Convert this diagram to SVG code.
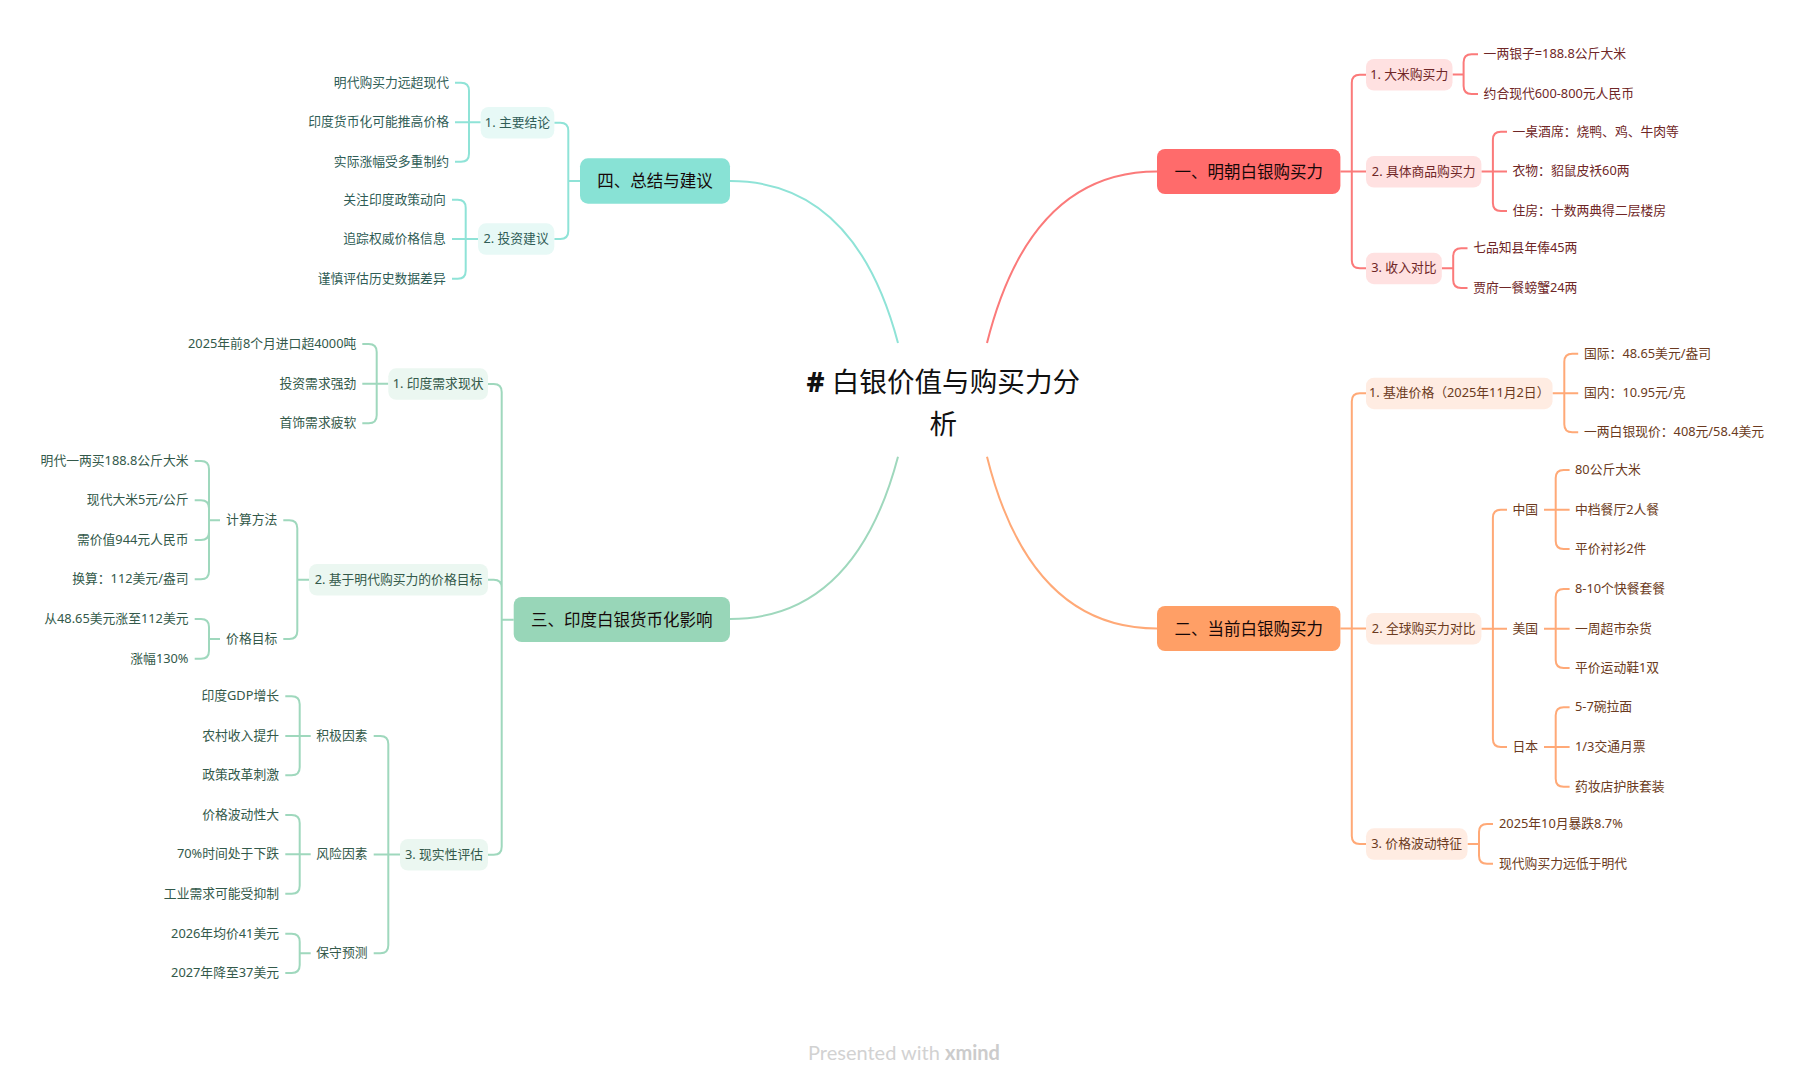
<svg xmlns="http://www.w3.org/2000/svg" width="1810" height="1080" viewBox="0 0 1810 1080">
<style>
text{font-family:"Noto Sans","Noto Sans CJK SC",sans-serif;font-size:12.8px}
.e{text-anchor:end}.m{text-anchor:middle}
.r text{fill:#6f2626;transform:translateY(-.7px)}.o text{fill:#6b3a20;transform:translateY(-.7px)}.t text{fill:#2f5d56;transform:translateY(-.7px)}.g text{fill:#33594a;transform:translateY(-.7px)}
.r text.main,.o text.main,.t text.main,.g text.main{font-size:16.5px;text-anchor:middle;fill:#160808;transform:none}
.r rect.s{fill:#ffe1e1}.o rect.s{fill:#ffece2}.t rect.s{fill:#e7f9f6}.g rect.s{fill:#ebf7f1}
path{fill:none;stroke-width:2;stroke-linecap:butt}
.cr{stroke:#fb7a7a}.co{stroke:#ffa977}.ct{stroke:#8fe3d7}.cg{stroke:#9fd8bd}
.big{font-size:27.6px;fill:#111}
</style>
<rect width="1810" height="1080" fill="#fff"/>
<g id="connectors">
<g class="cr">
<path d="M987 343Q1030 171.500 1157 171.500"/>
<path d="M1340.400 171.600H1366M1366 74.700H1359.800Q1351.800 74.700 1351.800 82.700V260.300Q1351.800 268.300 1359.800 268.300H1366"/>
<path d="M1452.500 74.500H1463.600M1478 54.300H1471.600Q1463.600 54.300 1463.600 62.300V86Q1463.600 94 1471.600 94H1478"/>
<path d="M1481.400 171.500H1507M1507 131.700H1500.900Q1492.900 131.700 1492.900 139.700V203Q1492.900 211 1500.900 211H1507"/>
<path d="M1441.800 268.300H1453.200M1467.500 248.300H1461.200Q1453.200 248.300 1453.200 256.300V280Q1453.200 288 1461.200 288H1467.500"/>
</g>
<g class="co">
<path d="M987 456.700Q1030 628.500 1157 628.500"/>
<path d="M1340.400 628.600H1366M1366 393.300H1359.800Q1351.800 393.300 1351.800 401.300V836Q1351.800 844 1359.800 844H1366"/>
<path d="M1552.500 393.300H1578.200M1578.200 353.700H1572.300Q1564.300 353.700 1564.300 361.700V424.300Q1564.300 432.300 1572.300 432.300H1578.200"/>
<path d="M1481.400 628.700H1507M1507 509.700H1500.900Q1492.900 509.700 1492.900 517.700V739Q1492.900 747 1500.900 747H1507"/>
<path d="M1544 509.700H1569.600M1569.600 470H1563.700Q1555.700 470 1555.700 478V541Q1555.700 549 1563.700 549H1569.600"/>
<path d="M1544 628.700H1569.600M1569.600 589H1563.700Q1555.700 589 1555.700 597V660Q1555.700 668 1563.700 668H1569.600"/>
<path d="M1544 747H1569.600M1569.600 707.300H1563.700Q1555.700 707.300 1555.700 715.300V778.700Q1555.700 786.700 1563.700 786.700H1569.600"/>
<path d="M1467.500 844H1479M1493 824H1487Q1479 824 1479 832V855.700Q1479 863.700 1487 863.700H1493"/>
</g>
<g class="ct">
<path d="M898 343Q855 181 730 181"/>
<path d="M580 181H568.300M554.300 122.700H560.300Q568.300 122.700 568.300 130.700V231Q568.300 239 560.300 239H554.300"/>
<path d="M455 122.300H480.700M455 82.700H461Q469 82.700 469 90.700V153.700Q469 161.700 461 161.700H455"/>
<path d="M452 239H478M452 199.700H457.700Q465.700 199.700 465.700 207.700V270.700Q465.700 278.700 457.700 278.700H452"/>
</g>
<g class="cg">
<path d="M898 456.700Q855 619 730 619"/>
<path d="M513.700 619.700H501.700M488 384H493.700Q501.700 384 501.700 392V846.700Q501.700 854.700 493.700 854.700H488M488 579.700H493.700Q501.700 579.700 501.700 587.700"/>
<path d="M362.300 383.700H388.300M362.300 344H368.700Q376.700 344 376.700 352V415.300Q376.700 423.300 368.700 423.300H362.300"/>
<path d="M283.300 520.300H289.300Q297.300 520.300 297.300 528.300V631Q297.300 639 289.300 639H283.300M297.300 579.700H309"/>
<path d="M194.700 461H201Q209 461 209 469V571.300Q209 579.300 201 579.300H194.700M194.700 500.300H201Q209 500.300 209 508.300M194.700 540H201Q209 540 209 532M209 520.300H220"/>
<path d="M194.700 619H201Q209 619 209 627V650.700Q209 658.700 201 658.700H194.700M209 639H220"/>
<path d="M373.700 736H380.300Q388.300 736 388.300 744V945.300Q388.300 953.300 380.300 953.300H373.700M373.700 854.500H400"/>
<path d="M285.300 736H310.700M285.300 696.300H291.700Q299.700 696.300 299.700 704.300V767.300Q299.700 775.300 291.700 775.300H285.300"/>
<path d="M285.300 854.300H310.700M285.300 815H291.700Q299.700 815 299.700 823V885.700Q299.700 893.700 291.700 893.700H285.300"/>
<path d="M285.300 933.700H291.700Q299.700 933.700 299.700 941.700V965Q299.700 973 291.700 973H285.300M299.700 953.300H310.700"/>
</g>
</g>
<g id="center"><text x="943.300" y="391.500" class="m big"><tspan font-weight="800">#</tspan> 白银价值与购买力分</text><text x="943.300" y="434" class="m big">析</text></g>

<g class="r">
<g id="n1"><rect x="1157" y="149" width="183.400" height="45" rx="8" fill="#ff6b6b"/><text class="main" x="1248.700" y="177.500">一、明朝白银购买力</text></g>
<g id="n1-1"><rect class="s" x="1366" y="59" width="86.500" height="31.500" rx="8"/><text class="m" x="1409.200" y="79.500">1. 大米购买力</text></g>
<g id="n1-1-1"><text x="1483.600" y="59">一两银子=188.8公斤大米</text></g>
<g id="n1-1-2"><text x="1483.600" y="98.700">约合现代600-800元人民币</text></g>
<g id="n1-2"><rect class="s" x="1366" y="156" width="115.400" height="31.500" rx="8"/><text class="m" x="1423.700" y="176.400">2. 具体商品购买力</text></g>
<g id="n1-2-1"><text x="1512.500" y="136.400">一桌酒席：烧鸭、鸡、牛肉等</text></g>
<g id="n1-2-2"><text x="1512.500" y="176">衣物：貂鼠皮袄60两</text></g>
<g id="n1-2-3"><text x="1512.500" y="215.700">住房：十数两典得二层楼房</text></g>
<g id="n1-3"><rect class="s" x="1366" y="252.700" width="75.800" height="31.500" rx="8"/><text class="m" x="1403.900" y="273">3. 收入对比</text></g>
<g id="n1-3-1"><text x="1473.200" y="253">七品知县年俸45两</text></g>
<g id="n1-3-2"><text x="1473.200" y="292.700">贾府一餐螃蟹24两</text></g>
</g>

<g class="o">
<g id="n2"><rect x="1157" y="606" width="183.400" height="45" rx="8" fill="#ff9f66"/><text class="main" x="1248.700" y="634.500">二、当前白银购买力</text></g>
<g id="n2-1"><rect class="s" x="1366" y="377.700" width="186.500" height="31.500" rx="8"/><text class="m" x="1459.200" y="398">1. 基准价格（2025年11月2日）</text></g>
<g id="n2-1-1"><text x="1584" y="358.400">国际：48.65美元/盎司</text></g>
<g id="n2-1-2"><text x="1584" y="398">国内：10.95元/克</text></g>
<g id="n2-1-3"><text x="1584" y="437">一两白银现价：408元/58.4美元</text></g>
<g id="n2-2"><rect class="s" x="1366" y="613" width="115.400" height="31.500" rx="8"/><text class="m" x="1423.700" y="633.400">2. 全球购买力对比</text></g>
<g id="n2-2-1"><text x="1512.500" y="514.400">中国</text></g>
<g id="n2-2-1-1"><text x="1575" y="474.700">80公斤大米</text></g>
<g id="n2-2-1-2"><text x="1575" y="514.400">中档餐厅2人餐</text></g>
<g id="n2-2-1-3"><text x="1575" y="553.700">平价衬衫2件</text></g>
<g id="n2-2-2"><text x="1512.500" y="633.400">美国</text></g>
<g id="n2-2-2-1"><text x="1575" y="593.700">8-10个快餐套餐</text></g>
<g id="n2-2-2-2"><text x="1575" y="633.400">一周超市杂货</text></g>
<g id="n2-2-2-3"><text x="1575" y="672.700">平价运动鞋1双</text></g>
<g id="n2-2-3"><text x="1512.500" y="751.700">日本</text></g>
<g id="n2-2-3-1"><text x="1575" y="712">5-7碗拉面</text></g>
<g id="n2-2-3-2"><text x="1575" y="751.700">1/3交通月票</text></g>
<g id="n2-2-3-3"><text x="1575" y="791.400">药妆店护肤套装</text></g>
<g id="n2-3"><rect class="s" x="1366" y="828.300" width="101.500" height="31.500" rx="8"/><text class="m" x="1416.700" y="848.700">3. 价格波动特征</text></g>
<g id="n2-3-1"><text x="1499" y="828.700">2025年10月暴跌8.7%</text></g>
<g id="n2-3-2"><text x="1499" y="868.400">现代购买力远低于明代</text></g>
</g>

<g class="t">
<g id="n4"><rect x="580" y="158.300" width="150" height="45.400" rx="8" fill="#88e2d5"/><text class="main" x="655" y="187">四、总结与建议</text></g>
<g id="n4-1"><rect class="s" x="480.700" y="107" width="73.600" height="31.500" rx="8"/><text class="m" x="517.500" y="127.400">1. 主要结论</text></g>
<g id="n4-1-1"><text class="e" x="449" y="87.400">明代购买力远超现代</text></g>
<g id="n4-1-2"><text class="e" x="449" y="127">印度货币化可能推高价格</text></g>
<g id="n4-1-3"><text class="e" x="449" y="166.400">实际涨幅受多重制约</text></g>
<g id="n4-2"><rect class="s" x="478" y="223.300" width="76.300" height="31.500" rx="8"/><text class="m" x="516.100" y="243.700">2. 投资建议</text></g>
<g id="n4-2-1"><text class="e" x="445.700" y="204.400">关注印度政策动向</text></g>
<g id="n4-2-2"><text class="e" x="445.700" y="243.700">追踪权威价格信息</text></g>
<g id="n4-2-3"><text class="e" x="445.700" y="283.400">谨慎评估历史数据差异</text></g>
</g>

<g class="g">
<g id="n3"><rect x="513.700" y="597" width="216.300" height="45" rx="8" fill="#98d6b8"/><text class="main" x="621.800" y="625.500">三、印度白银货币化影响</text></g>
<g id="n3-1"><rect class="s" x="388.300" y="368.300" width="99.700" height="31.500" rx="8"/><text class="m" x="438.100" y="388.700">1. 印度需求现状</text></g>
<g id="n3-1-1"><text class="e" x="356.300" y="348.700">2025年前8个月进口超4000吨</text></g>
<g id="n3-1-2"><text class="e" x="356.300" y="388.400">投资需求强劲</text></g>
<g id="n3-1-3"><text class="e" x="356.300" y="428">首饰需求疲软</text></g>
<g id="n3-2"><rect class="s" x="309" y="564" width="179" height="31.500" rx="8"/><text class="m" x="398.500" y="584.400">2. 基于明代购买力的价格目标</text></g>
<g id="n3-2-1"><text class="e" x="277.300" y="525">计算方法</text></g>
<g id="n3-2-1-1"><text class="e" x="188.500" y="465.700">明代一两买188.8公斤大米</text></g>
<g id="n3-2-1-2"><text class="e" x="188.500" y="505">现代大米5元/公斤</text></g>
<g id="n3-2-1-3"><text class="e" x="188.500" y="544.700">需价值944元人民币</text></g>
<g id="n3-2-1-4"><text class="e" x="188.500" y="584">换算：112美元/盎司</text></g>
<g id="n3-2-2"><text class="e" x="277.300" y="643.700">价格目标</text></g>
<g id="n3-2-2-1"><text class="e" x="188.500" y="623.700">从48.65美元涨至112美元</text></g>
<g id="n3-2-2-2"><text class="e" x="188.500" y="663.400">涨幅130%</text></g>
<g id="n3-3"><rect class="s" x="400" y="839" width="88" height="31.500" rx="8"/><text class="m" x="444" y="859.400">3. 现实性评估</text></g>
<g id="n3-3-1"><text class="e" x="367.500" y="740.700">积极因素</text></g>
<g id="n3-3-1-1"><text class="e" x="279" y="701">印度GDP增长</text></g>
<g id="n3-3-1-2"><text class="e" x="279" y="740.700">农村收入提升</text></g>
<g id="n3-3-1-3"><text class="e" x="279" y="780">政策改革刺激</text></g>
<g id="n3-3-2"><text class="e" x="367.500" y="859">风险因素</text></g>
<g id="n3-3-2-1"><text class="e" x="279" y="819.700">价格波动性大</text></g>
<g id="n3-3-2-2"><text class="e" x="279" y="859">70%时间处于下跌</text></g>
<g id="n3-3-2-3"><text class="e" x="279" y="898.400">工业需求可能受抑制</text></g>
<g id="n3-3-3"><text class="e" x="367.500" y="958">保守预测</text></g>
<g id="n3-3-3-1"><text class="e" x="279" y="938.400">2026年均价41美元</text></g>
<g id="n3-3-3-2"><text class="e" x="279" y="977.700">2027年降至37美元</text></g>
</g>
<text x="808" y="1060" style="font-family:'Lato',sans-serif;font-size:20px;fill:#d2d2d2">Presented with <tspan font-weight="700" fill="#cccccc">xmind</tspan></text>
</svg>
